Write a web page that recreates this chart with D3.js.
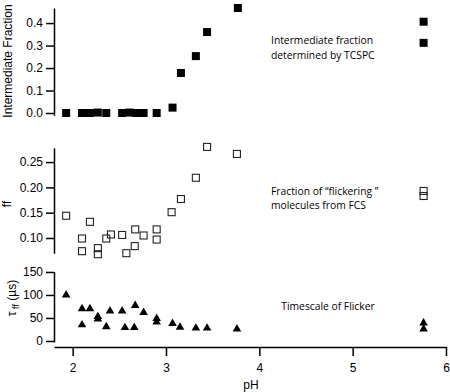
<!DOCTYPE html>
<html>
<head>
<meta charset="utf-8">
<script src="https://cdn.jsdelivr.net/npm/d3@7"></script>
<style>
body { margin: 0; background: #fff; }
.axis text { font-family: "Liberation Sans", Arial, sans-serif; font-size: 12px; fill: #000; }
.axis path, .axis line { stroke: #000; stroke-width: 1.5; }
.note { font-family: "Open Sans", "Noto Sans", sans-serif; font-size: 10.3px; fill: #000; }
.title { font-family: "Liberation Sans", Arial, sans-serif; font-size: 12px; fill: #000; }
</style>
</head>
<body>
<div id="canvas"></div>
<script>
// ----------------------------------------------------------
// DATA -----------------------------------------------------
// ----------------------------------------------------------
// intermediate fraction (TCSPC)
var ph_tcspc = [1.93, 2.10, 2.185, 2.27, 2.36, 2.53, 2.61, 2.68, 2.76, 2.90, 3.07, 3.16, 3.32, 3.44, 3.77, 5.76, 5.76];
var frac_tcspc = [0.0, 0.0, 0.0, 0.002, 0.0, 0.0, 0.002, 0.0, 0.0, 0.0, 0.024, 0.178, 0.253, 0.36, 0.467, 0.406, 0.312];

// fraction of flickering molecules (FCS)
var ph_fcs = [1.93, 2.10, 2.10, 2.185, 2.27, 2.27, 2.36, 2.41, 2.53, 2.575, 2.665, 2.67, 2.76, 2.90, 2.90, 3.06, 3.16, 3.32, 3.44, 3.76, 5.76, 5.76];
var ff_fcs = [0.144, 0.099, 0.074, 0.132, 0.080, 0.068, 0.099, 0.107, 0.106, 0.070, 0.084, 0.117, 0.105, 0.117, 0.097, 0.151, 0.177, 0.219, 0.280, 0.266, 0.193, 0.183];

// timescale of flicker (us)
var ph_tau = [1.93, 2.10, 2.10, 2.185, 2.27, 2.27, 2.36, 2.40, 2.53, 2.56, 2.66, 2.67, 2.76, 2.90, 2.90, 3.07, 3.15, 3.32, 3.44, 3.76, 5.76, 5.76];
var tau_ff = [100, 70, 35, 70, 53, 48, 31, 65, 65, 29, 29, 77, 62, 49, 41, 38, 30, 28, 28, 26, 39, 26];

// tick values
var ticks_x = [2, 3, 4, 5, 6];
var ticks_top = [0.0, 0.1, 0.2, 0.3, 0.4];
var ticks_mid = [0.10, 0.15, 0.20, 0.25];
var ticks_bot = [0, 50, 100, 150];

// ----------------------------------------------------------
// STRUCTURE ------------------------------------------------
// ----------------------------------------------------------
var svg = d3.select("#canvas").append("svg")
.attr("width", 450)
.attr("height", 392)
.style("display", "block");

// ----------------------------------------------------------
// SCALES ---------------------------------------------------
// ----------------------------------------------------------
var xScale = d3.scaleLinear().domain([1.8, 6]).range([54, 446]);
var yTop = d3.scaleLinear().domain([-0.01, 0.467]).range([115.25, 8]);
var yMid = d3.scaleLinear().domain([0.07, 0.278]).range([253.2, 147.9]);
var yBot = d3.scaleLinear().domain([-2, 151]).range([341.9, 271.5]);

// ----------------------------------------------------------
// AXES -----------------------------------------------------
// ----------------------------------------------------------
function leftAxis(scale, ticks, fmt) {
  return d3.axisLeft(scale).tickValues(ticks).tickFormat(d3.format(fmt))
  .tickSize(8).tickSizeOuter(0).tickPadding(3);
}
svg.append("g").attr("class", "axis").attr("transform", "translate(54,0)")
.call(leftAxis(yTop, ticks_top, ".1f"));
svg.append("g").attr("class", "axis").attr("transform", "translate(54,0)")
.call(leftAxis(yMid, ticks_mid, ".2f"));
svg.append("g").attr("class", "axis").attr("transform", "translate(54,0)")
.call(leftAxis(yBot, ticks_bot, "d"));

svg.append("g").attr("class", "axis").attr("transform", "translate(0,347)")
.call(d3.axisBottom(xScale).tickValues(ticks_x).tickFormat(d3.format("d"))
.tickSize(9).tickSizeOuter(0).tickPadding(7));

// ----------------------------------------------------------
// MARKS ----------------------------------------------------
// ----------------------------------------------------------
// filled squares
svg.append("g").selectAll("rect")
.data(ph_tcspc)
.enter().append("rect")
.attr("x", function(d) { return xScale(d) - 4; })
.attr("y", function(d, i) { return yTop(frac_tcspc[i]) - 4; })
.attr("width", 8).attr("height", 8)
.style("fill", "#000");

// open squares
svg.append("g").selectAll("rect")
.data(ph_fcs)
.enter().append("rect")
.attr("x", function(d) { return xScale(d) - 3.5; })
.attr("y", function(d, i) { return yMid(ff_fcs[i]) - 3.5; })
.attr("width", 7).attr("height", 7)
.style("fill", "none").style("stroke", "#222").style("stroke-width", 1.1);

// triangles
var tri = d3.symbol().type(d3.symbolTriangle).size(32);
svg.append("g").selectAll("path")
.data(ph_tau)
.enter().append("path")
.attr("d", tri)
.attr("transform", function(d, i) { return "translate(" + xScale(d) + "," + yBot(tau_ff[i]) + ")"; })
.style("fill", "#000");

// ----------------------------------------------------------
// TEXT -----------------------------------------------------
// ----------------------------------------------------------
svg.append("text").attr("class", "title")
.attr("transform", "translate(12,61) rotate(-90)")
.attr("text-anchor", "middle")
.text("Intermediate Fraction");

svg.append("text").attr("class", "title")
.attr("transform", "translate(11,204) rotate(-90)")
.attr("text-anchor", "middle")
.text("ff");

var tau_title = svg.append("text").attr("class", "title")
.attr("transform", "translate(16,298) rotate(-90)")
.attr("text-anchor", "middle");
tau_title.append("tspan").text("τ");
tau_title.append("tspan").attr("font-size", "9px").attr("dy", 3).text(" ff");
tau_title.append("tspan").attr("dy", -3).text(" (µs)");

svg.append("text").attr("class", "title")
.attr("x", 251).attr("y", 389)
.attr("text-anchor", "middle")
.text("pH");

svg.append("text").attr("class", "note").attr("x", 271).attr("y", 44).text("Intermediate fraction");
svg.append("text").attr("class", "note").attr("x", 271).attr("y", 59).text("determined by TCSPC");
svg.append("text").attr("class", "note").attr("x", 271).attr("y", 195).text("Fraction of  “flickering ”");
svg.append("text").attr("class", "note").attr("x", 271).attr("y", 209).text("molecules from FCS");
svg.append("text").attr("class", "note").attr("x", 328).attr("y", 310).attr("text-anchor", "middle").text("Timescale of Flicker");
</script>
</body>
</html>
